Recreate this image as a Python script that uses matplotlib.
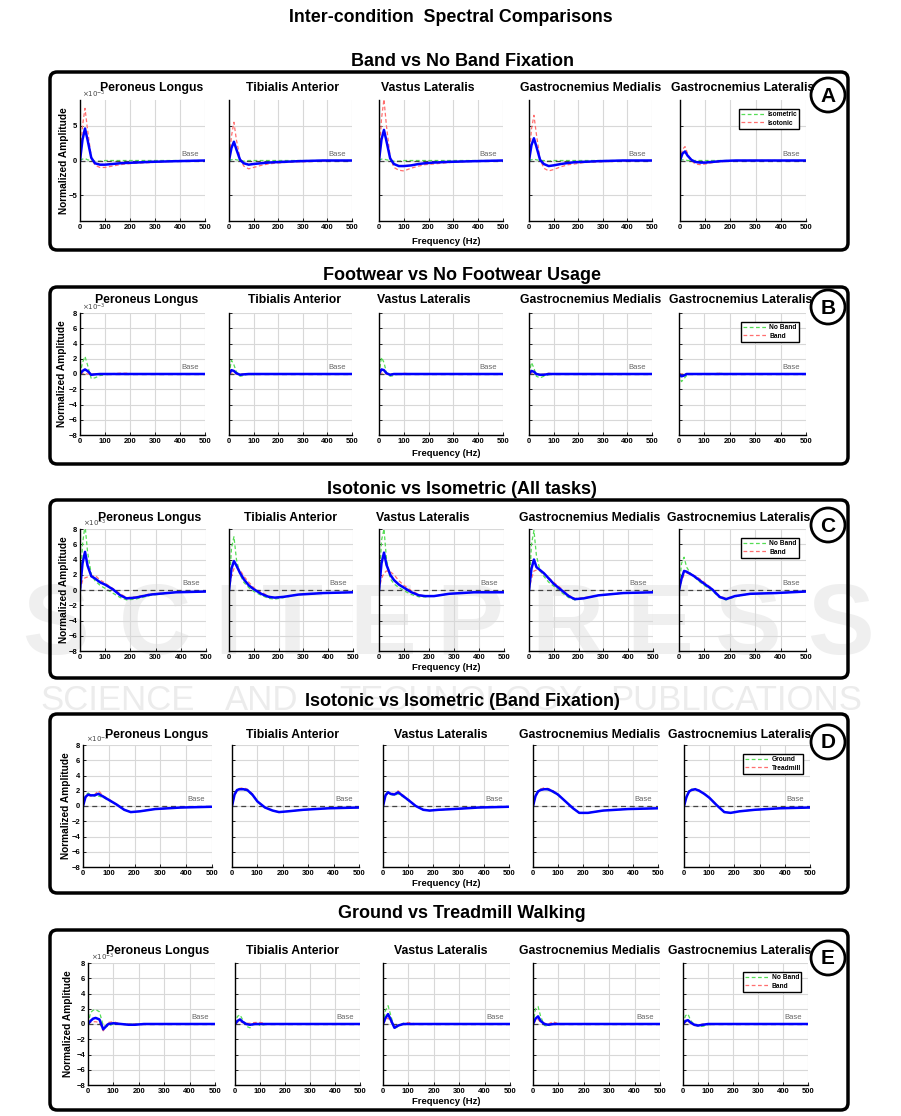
import numpy as np
import matplotlib
matplotlib.use("Agg")
import matplotlib.pyplot as plt
from matplotlib.patches import FancyBboxPatch, Ellipse
from matplotlib.lines import Line2D

plt.rcParams['font.family'] = ['Liberation Sans', 'DejaVu Sans']

W, H = 901, 1116

# frequency samples (Hz), amplitudes in units of 1e-3
freq = [0, 10, 20, 30, 45, 60, 80, 100, 130, 160, 185, 220, 280, 380, 500]

muscles = ["Peroneus Longus", "Tibialis Anterior", "Vastus Lateralis",
           "Gastrocnemius Medialis", "Gastrocnemius Lateralis"]
panel_titles = ["Band vs No Band Fixation", "Footwear vs No Footwear Usage",
                "Isotonic vs Isometric (All tasks)", "Isotonic vs Isometric (Band Fixation)",
                "Ground vs Treadmill Walking"]
panel_letters = ["A", "B", "C", "D", "E"]
legend_labels = [("Isometric", "Isotonic"), ("No Band", "Band"), ("No Band", "Band"),
                 ("Ground", "Treadmill"), ("No Band", "Band")]

A_blue = [[0, 3.0, 4.6, 3.0, 0.4, -0.4, -0.6, -0.6, -0.5, -0.4, -0.35, -0.3, -0.2, -0.1, 0],
          [0, 1.8, 2.7, 1.6, 0.1, -0.4, -0.6, -0.5, -0.4, -0.3, -0.25, -0.2, -0.1, 0, 0],
          [0, 3.0, 4.4, 2.8, 0.3, -0.5, -0.8, -0.8, -0.7, -0.5, -0.4, -0.3, -0.2, -0.1, 0],
          [0, 2.2, 3.2, 2.0, 0.1, -0.5, -0.8, -0.7, -0.5, -0.35, -0.25, -0.2, -0.1, 0, 0],
          [0, 1.0, 1.3, 0.7, 0.1, -0.2, -0.3, -0.3, -0.2, -0.1, -0.05, 0, 0, 0, 0]]
A_red = [[0, 5.0, 7.5, 4.5, 0.5, -0.7, -1.0, -1.0, -0.8, -0.6, -0.5, -0.4, -0.3, -0.1, 0],
         [0, 3.5, 5.5, 3.0, 0.3, -0.8, -1.2, -1.0, -0.7, -0.5, -0.4, -0.3, -0.2, -0.1, 0],
         [0, 6.0, 8.8, 5.0, 0.5, -1.0, -1.4, -1.5, -1.1, -0.8, -0.6, -0.5, -0.3, -0.1, 0],
         [0, 4.5, 6.5, 3.8, 0.2, -1.1, -1.5, -1.3, -0.9, -0.6, -0.5, -0.3, -0.2, -0.1, 0],
         [0, 1.6, 2.0, 1.0, 0.0, -0.5, -0.6, -0.5, -0.3, -0.2, -0.1, -0.1, 0, 0, 0]]
A_green = [[0, 0.2, 0.3, 0.1, 0, -0.1, -0.1, 0, 0, 0, 0, 0, 0, 0, 0],
           [0, 0.1, 0.2, 0.1, 0, -0.1, 0, 0, 0, 0, 0, 0, 0, 0, 0],
           [0, 0.2, 0.2, 0.1, 0, -0.1, -0.1, 0, 0, 0, 0, 0, 0, 0, 0],
           [0, 0.1, 0.2, 0.1, 0, 0, -0.1, 0, 0, 0, 0, 0, 0, 0, 0],
           [0, 0.1, 0.1, 0, 0, 0, 0, 0, 0, 0, 0, 0, 0, 0, 0]]

B_blue = [[0, 0.4, 0.6, 0.4, -0.1, -0.05, 0, 0, 0, 0, 0, 0, 0, 0, 0],
          [0, 0.5, 0.4, 0.1, -0.1, -0.05, 0, 0, 0, 0, 0, 0, 0, 0, 0],
          [0, 0.6, 0.5, 0.1, -0.1, 0, 0, 0, 0, 0, 0, 0, 0, 0, 0],
          [0, 0.4, 0.3, 0, -0.1, -0.1, 0, 0, 0, 0, 0, 0, 0, 0, 0],
          [0, -0.3, -0.2, 0, 0, 0, 0, 0, 0, 0, 0, 0, 0, 0, 0]]
B_green = [[0, 1.5, 2.3, 1.2, -0.6, -0.5, -0.2, -0.1, 0, 0, 0, 0, 0, 0, 0],
           [0, 1.8, 1.2, 0.3, -0.3, -0.2, 0, -0.1, 0, 0, 0, 0, 0, 0, 0],
           [0, 2.2, 1.5, 0.2, -0.3, -0.2, 0, 0, 0, 0, 0, 0, 0, 0, 0],
           [0, 1.5, 0.8, -0.3, -0.5, -0.3, -0.1, 0, 0, 0, 0, 0, 0, 0, 0],
           [0, -1.0, -0.6, -0.2, 0, 0, 0, 0, 0, 0.1, 0, 0, 0, 0, 0]]
B_red = [[0, 0.1, 0.1, 0, 0, 0, 0, 0, 0.05, 0.1, 0.1, 0, 0, 0, 0],
         [0, 0.1, 0.1, 0, 0, 0, 0, 0, 0, 0, 0, 0, 0, 0, 0],
         [0, 0.1, 0.1, 0, 0, 0, 0, 0.1, 0, 0, 0, 0, 0, 0, 0],
         [0, 0.1, 0.1, 0, -0.1, 0, 0.1, 0, 0, 0, 0, 0, 0, 0, 0],
         [0, 0, 0.1, 0, 0, 0, 0, 0, 0, 0.1, 0, 0, 0, 0, 0]]

C_blue = [[0, 3.5, 5.0, 3.2, 1.8, 1.5, 1.0, 0.7, 0.1, -0.7, -1.1, -1.0, -0.6, -0.3, -0.2],
          [0, 2.8, 3.8, 3.2, 2.2, 1.4, 0.6, 0.1, -0.5, -0.9, -1.0, -0.9, -0.6, -0.4, -0.3],
          [0, 3.5, 4.9, 3.3, 2.0, 1.3, 0.7, 0.3, -0.3, -0.7, -0.8, -0.8, -0.5, -0.3, -0.3],
          [0, 2.8, 4.0, 3.0, 2.6, 2.2, 1.5, 0.8, 0, -0.8, -1.2, -1.1, -0.7, -0.4, -0.3],
          [0, 1.5, 2.5, 2.4, 2.1, 1.8, 1.3, 0.8, 0.1, -0.9, -1.2, -0.8, -0.5, -0.4, -0.2]]
C_green = [[0, 6.0, 8.5, 5.0, 2.0, 1.2, 0.6, 0.2, -0.4, -1.0, -1.3, -1.2, -0.7, -0.3, -0.2],
           [0, 5.5, 7.0, 4.0, 2.0, 1.0, 0.3, -0.2, -0.7, -1.1, -1.2, -1.0, -0.6, -0.4, -0.3],
           [0, 6.5, 8.0, 4.0, 1.5, 0.8, 0.3, -0.1, -0.6, -0.9, -0.9, -0.8, -0.5, -0.3, -0.3],
           [0, 6.0, 7.8, 4.5, 2.5, 1.8, 1.0, 0.5, -0.3, -1.0, -1.3, -1.1, -0.7, -0.4, -0.3],
           [0, 3.5, 4.3, 3.0, 2.2, 1.7, 1.1, 0.6, -0.1, -1.0, -1.3, -0.9, -0.5, -0.4, -0.2]]
C_red = [[0, 1.2, 1.6, 1.7, 1.8, 1.9, 1.3, 0.9, 0.2, -0.5, -1.0, -0.9, -0.5, -0.3, -0.2],
         [0, 1.8, 2.8, 3.0, 2.6, 1.8, 1.0, 0.3, -0.3, -0.8, -1.0, -0.9, -0.6, -0.4, -0.3],
         [0, 1.5, 2.2, 2.5, 2.4, 2.0, 1.2, 0.6, -0.1, -0.6, -0.8, -0.8, -0.5, -0.3, -0.3],
         [0, 1.5, 2.5, 2.6, 2.5, 2.2, 1.6, 1.0, 0.2, -0.7, -1.1, -1.0, -0.7, -0.4, -0.3],
         [0, 1.2, 2.0, 2.2, 2.1, 1.9, 1.5, 1.0, 0.2, -0.8, -1.1, -0.8, -0.5, -0.4, -0.2]]

D_blue = [[0, 1.2, 1.5, 1.4, 1.4, 1.6, 1.2, 0.8, 0.2, -0.5, -0.8, -0.7, -0.4, -0.2, -0.1],
          [0, 1.5, 2.1, 2.2, 2.2, 2.1, 1.5, 0.6, -0.2, -0.6, -0.8, -0.7, -0.5, -0.3, -0.2],
          [0, 1.4, 1.8, 1.6, 1.5, 1.8, 1.3, 0.8, 0.0, -0.5, -0.6, -0.5, -0.4, -0.2, -0.1],
          [0, 1.3, 1.9, 2.1, 2.2, 2.2, 1.9, 1.5, 0.6, -0.3, -0.9, -0.9, -0.6, -0.4, -0.3],
          [0, 1.2, 1.9, 2.1, 2.2, 2.0, 1.6, 1.1, 0.1, -0.8, -0.9, -0.7, -0.5, -0.3, -0.2]]
D_green = [[0, 1.4, 1.7, 1.5, 1.3, 1.3, 1.1, 0.7, 0.2, -0.5, -0.8, -0.7, -0.4, -0.2, -0.1],
           [0, 1.6, 2.2, 2.3, 2.1, 2.0, 1.4, 0.6, -0.2, -0.6, -0.8, -0.7, -0.5, -0.3, -0.2],
           [0, 1.5, 1.9, 1.5, 1.4, 1.6, 1.2, 0.7, 0.0, -0.5, -0.6, -0.5, -0.4, -0.2, -0.1],
           [0, 1.4, 2.0, 2.2, 2.3, 2.1, 1.8, 1.4, 0.6, -0.3, -0.9, -0.9, -0.6, -0.4, -0.3],
           [0, 1.3, 2.0, 2.2, 2.2, 2.0, 1.6, 1.1, 0.1, -0.8, -0.9, -0.7, -0.5, -0.3, -0.2]]
D_red = [[0, 1.1, 1.4, 1.3, 1.5, 2.0, 1.3, 0.9, 0.2, -0.5, -0.8, -0.7, -0.4, -0.2, -0.1],
         [0, 1.4, 2.0, 2.3, 2.4, 2.2, 1.6, 0.6, -0.2, -0.6, -0.8, -0.7, -0.5, -0.3, -0.2],
         [0, 1.3, 1.7, 1.8, 1.6, 2.0, 1.4, 0.9, 0.0, -0.5, -0.6, -0.5, -0.4, -0.2, -0.1],
         [0, 1.2, 1.8, 2.2, 2.4, 2.3, 2.0, 1.5, 0.6, -0.3, -0.9, -0.9, -0.6, -0.4, -0.3],
         [0, 1.1, 1.8, 2.0, 2.3, 2.1, 1.6, 1.1, 0.1, -0.8, -0.9, -0.7, -0.5, -0.3, -0.2]]

E_blue = [[0, 0.4, 0.7, 0.8, 0.6, -0.7, 0.0, 0.1, 0, -0.1, -0.1, 0, 0, 0, 0],
          [0, 0.4, 0.6, 0.3, 0, -0.1, 0, 0, 0, 0, 0, 0, 0, 0, 0],
          [0, 0.8, 1.3, 0.6, -0.5, -0.2, 0, 0, 0, 0, 0, 0, 0, 0, 0],
          [0, 0.7, 1.0, 0.4, 0, -0.1, 0, 0, 0, 0, 0, 0, 0, 0, 0],
          [0, 0.4, 0.5, 0.2, -0.1, -0.2, -0.1, 0, 0, 0, 0, 0, 0, 0, 0]]
E_green = [[0, 1.5, 1.8, 1.9, 1.6, -0.2, -0.3, 0, 0, 0, 0, 0, 0, 0, 0],
           [0, 1.0, 1.2, 0.6, -0.3, -0.5, 0.2, -0.2, 0, 0, 0, 0, 0, 0, 0],
           [0, 1.8, 2.4, 1.2, -0.6, -0.3, 0.1, 0, 0, 0, 0, 0, 0, 0, 0],
           [0, 2.0, 2.3, 1.0, -0.2, -0.3, 0.2, 0, 0, 0, 0, 0, 0, 0, 0],
           [0, 1.1, 1.3, 0.5, -0.1, -0.3, -0.3, -0.1, 0, 0, 0, 0, 0, 0, 0]]
E_red = [[0, 0.2, 0.3, 0.3, 0.2, -0.9, 0.2, 0.3, 0, 0, 0, 0, 0, 0, 0],
         [0, 0.2, 0.3, 0.2, 0.1, 0.1, 0.2, 0.2, 0, 0, 0, 0, 0, 0, 0],
         [0, 0.5, 0.8, 0.3, -0.3, -0.2, 0, 0.2, 0, 0, 0, 0, 0, 0, 0],
         [0, 0.4, 0.6, 0.2, 0.1, 0, 0.3, 0, 0, 0, 0, 0, 0, 0, 0],
         [0, 0.2, 0.3, 0.1, -0.2, -0.2, 0, 0, 0, 0, 0, 0, 0, 0, 0]]

blues = [A_blue, B_blue, C_blue, D_blue, E_blue]
greens = [A_green, B_green, C_green, D_green, E_green]
reds = [A_red, B_red, C_red, D_red, E_red]

# layout in pixels
box_y = [(72, 250), (287, 464), (500, 678), (714, 893), (930, 1110)]
title_y = [62, 275, 489, 702, 913]
sub_y = [88, 300, 518, 735, 951]
sub_x = [[152, 292, 428, 591, 743],
         [147, 294, 424, 591, 741],
         [150, 291, 423, 590, 739],
         [157, 292, 441, 590, 740],
         [158, 292, 441, 590, 740]]
ax_y = [(100, 221), (313, 435), (529, 651), (745, 867), (963, 1085)]
ax_x = [[(80, 205), (229, 352), (379, 503), (529, 652), (680, 806)],
        [(80, 205), (229, 352), (379, 503), (529, 652), (679, 806)],
        [(80, 206), (229, 353), (379, 504), (529, 653), (679, 806)],
        [(83, 212), (232, 359), (383, 509), (533, 658), (684, 810)],
        [(88, 215), (235, 360), (383, 510), (533, 660), (683, 808)]]
xlab_y = [241, 453, 667, 884, 1101]
ylab_x = [64, 62, 64, 66, 68]
ylims = [(-8.7, 8.7), (-8, 8), (-8, 8), (-8, 8), (-8, 8)]
yticks = [[-5, 0, 5], list(range(-8, 9, 2)), list(range(-8, 9, 2)),
          list(range(-8, 9, 2)), list(range(-8, 9, 2))]

fig = plt.figure(figsize=(W / 100, H / 100), dpi=100)


def fx(px):
    return px / W


def fy(py):
    return 1 - py / H


# faint publisher watermark
wm_letters = "SCITEPRESS"
wm_x = [55, 155, 228, 292, 383, 470, 567, 660, 747, 840]
for ch, xx in zip(wm_letters, wm_x):
    fig.text(fx(xx), fy(628), ch, fontsize=72, fontweight='bold', color='#efefef',
             ha='center', va='center', zorder=-5)
wm_words = ["SCIENCE", "AND", "TECHNOLOGY", "PUBLICATIONS"]
wm_wx = [118, 262, 461, 736]
for wd, xx in zip(wm_words, wm_wx):
    fig.text(fx(xx), fy(701), wd, fontsize=25, color='#ececec',
             ha='center', va='center', zorder=-5)

fig.text(0.5, fy(18), "Inter-condition  Spectral Comparisons", fontsize=12.8,
         fontweight='bold', ha='center', va='center')

for p in range(5):
    y0, y1 = box_y[p]
    box = FancyBboxPatch((fx(50), fy(y1)), (848 - 50) / W, (y1 - y0) / H,
                         boxstyle="round,pad=0,rounding_size=0.008",
                         transform=fig.transFigure, fill=False, lw=2.5,
                         edgecolor='black', mutation_aspect=W / H)
    fig.add_artist(box)
    fig.text(0.513, fy(title_y[p]), panel_titles[p], fontsize=13,
             fontweight='bold', ha='center', va='center')
    # circled letter
    cy = sub_y[p] + 7
    fig.add_artist(Ellipse((fx(828), fy(cy)), 34 / W, 34 / H,
                           transform=fig.transFigure, fill=False, lw=2,
                           edgecolor='black'))
    fig.text(fx(828), fy(cy + 1), panel_letters[p], fontsize=15, fontweight='bold',
             ha='center', va='center')

    a0, a1 = ax_y[p]
    for m in range(5):
        x0, x1 = ax_x[p][m]
        ax = fig.add_axes([fx(x0), fy(a1), (x1 - x0) / W, (a1 - a0) / H])
        ax.set_facecolor('none')
        ax.plot(freq, greens[p][m], color='#55dd55', ls='--', lw=0.9, dashes=(3, 2))
        ax.plot(freq, reds[p][m], color='#ff6f6f', ls='--', lw=0.9, dashes=(3, 2))
        ax.axhline(0, color='#444444', ls='--', lw=0.9, dashes=(4, 3))
        ax.plot(freq, blues[p][m], color='#0000ff', lw=1.8)
        ax.annotate("Base", (440, 0), xytext=(0, 2), textcoords='offset points',
                    fontsize=5.5, color='#666666', ha='center', va='bottom')
        ax.set_xlim(0, 500)
        ax.set_ylim(*ylims[p])
        ax.set_xticks(range(0, 501, 100))
        ax.set_yticks(yticks[p])
        ax.grid(True, color='#d8d8d8', lw=0.8)
        ax.set_axisbelow(True)
        for s in ['top', 'right']:
            ax.spines[s].set_visible(False)
        for s in ['left', 'bottom']:
            ax.spines[s].set_linewidth(1.0)
        ax.tick_params(labelsize=5.5, length=2, width=0.6, direction='in', pad=2)
        for lab in ax.get_xticklabels() + ax.get_yticklabels():
            lab.set_fontweight('bold')
        if m > 0:
            ax.tick_params(labelleft=False)
        else:
            ax.text(0.02, 1.0, r'$\times10^{-3}$', transform=ax.transAxes,
                    fontsize=5, color='#444444', ha='left', va='bottom')
        fig.text(fx(sub_x[p][m]), fy(sub_y[p]), muscles[m], fontsize=8.8,
                 fontweight='bold', ha='center', va='center')
        if m == 4:
            handles = [Line2D([], [], color='#55dd55', ls='--', lw=0.9, dashes=(3, 2)),
                       Line2D([], [], color='#ff6f6f', ls='--', lw=0.9, dashes=(3, 2))]
            leg = ax.legend(handles, legend_labels[p], loc='upper right', fontsize=4.8,
                            frameon=True, fancybox=False, framealpha=1,
                            edgecolor='black', handlelength=3.5, labelspacing=0.2,
                            borderpad=0.3, handletextpad=0.5,
                            bbox_to_anchor=(0.97, 0.95))
            leg.get_frame().set_linewidth(1.0)
            for t in leg.get_texts():
                t.set_fontweight('bold')

    fig.text(fx(446), fy(xlab_y[p]), "Frequency (Hz)", fontsize=6.8,
             fontweight='bold', ha='center', va='center')
    fig.text(fx(ylab_x[p]), fy((a0 + a1) / 2), "Normalized Amplitude", fontsize=7.3,
             fontweight='bold', ha='center', va='center', rotation=90)

fig.savefig("out.png", dpi=100)
